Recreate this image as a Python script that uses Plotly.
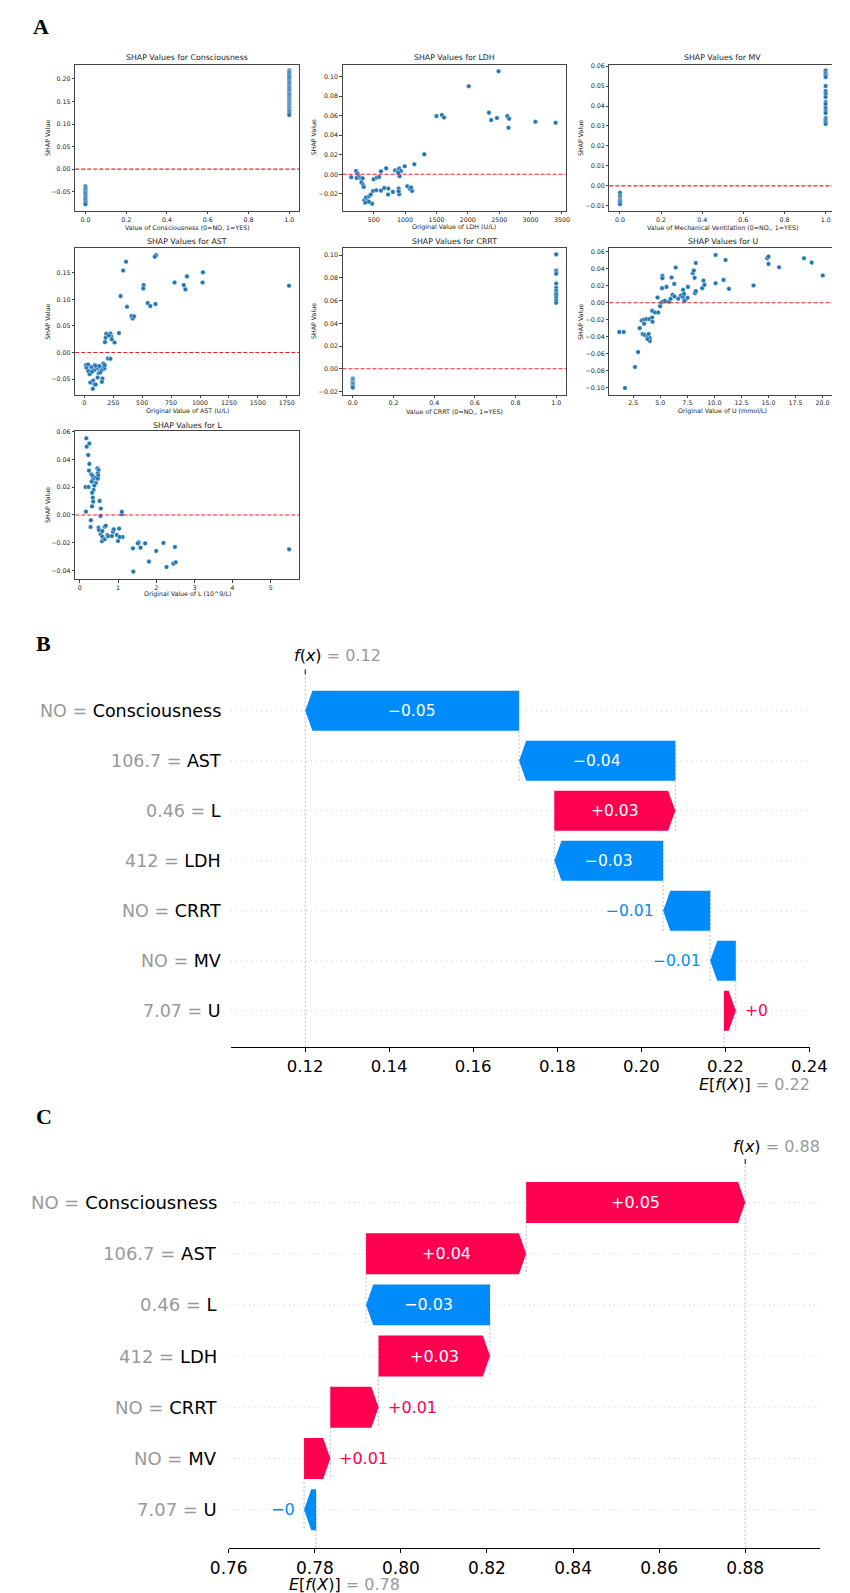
import plotly.graph_objects as go

W, H = 850, 1593

# ------------------------------------------------------------------
# Panel A data (SHAP dependence scatter values)
# ------------------------------------------------------------------
cons_x = [0, 0, 0, 0, 0, 0, 0, 0, 0, 0, 0,
          1, 1, 1, 1, 1, 1, 1, 1, 1, 1, 1, 1, 1, 1, 1,
          1, 1, 1, 1, 1, 1, 1, 1, 1, 1, 1, 1, 1, 1, 1]
cons_y = [-0.038, -0.042, -0.046, -0.05, -0.054, -0.058, -0.062, -0.066, -0.07, -0.074, -0.078,
          0.219, 0.216, 0.213, 0.209, 0.205, 0.201, 0.196, 0.193, 0.19, 0.186,
          0.182, 0.179, 0.175, 0.171, 0.168, 0.165, 0.162, 0.158, 0.155, 0.152,
          0.149, 0.146, 0.143, 0.14, 0.137, 0.134, 0.131, 0.128, 0.124, 0.12]

ldh_x = [2015, 2490, 1500, 1587, 1622, 2337, 2372, 2464, 2628, 2658,
         2648, 3077, 3398, 1306, 1148, 995, 699, 617, 143, 219,
         245, 260, 230, 286, 306, 326, 500, 551, 587, 306,
         332, 342, 352, 378, 403, 429, 454, 475, 367, 424,
         490, 541, 617, 668, 735, 730, 806, 842, 883, 908,
         934, 913, 893, 898, 908, 898, 1036, 1077, 1112, 1097]
ldh_y = [0.090, 0.1054, 0.0595, 0.0605, 0.058, 0.063, 0.0554, 0.0575, 0.0595, 0.0568,
         0.0476, 0.0537, 0.0527, 0.0204, 0.0102, 0.0082, 0.0061, 0.003, -0.003, 0.0034,
         0.0007, -0.0017, -0.0037, -0.0034, -0.005, -0.004, -0.005, -0.0034, -0.0027, -0.0085,
         -0.011, -0.0129, -0.0265, -0.0238, -0.027, -0.0224, -0.0207, -0.030, -0.029, -0.028,
         -0.017, -0.0163, -0.0167, -0.014, -0.0146, -0.0207, -0.018, 0.004, 0.0034, 0.0058,
         0.0034, -0.002, 0.0014, -0.0146, -0.0204, -0.0173, -0.0122, -0.015, -0.017, -0.0136]

mv_x = [0, 0, 0, 0, 0, 0, 0,
        1, 1, 1, 1, 1, 1, 1, 1, 1, 1, 1, 1, 1, 1, 1, 1, 1]
mv_y = [-0.0035, -0.005, -0.006, -0.0068, -0.0075, -0.0082, -0.0092,
        0.0578, 0.0565, 0.0555, 0.0545, 0.050, 0.0475, 0.046, 0.0445, 0.042,
        0.041, 0.039, 0.0375, 0.0365, 0.034, 0.033, 0.032, 0.031]

ast_x = [620, 609, 361, 336, 1025, 1022, 887, 780, 860, 874,
         513, 510, 1769, 314, 548, 571, 615, 369, 408, 419,
         430, 190, 226, 185, 179, 234, 262, 300, 212, 237,
         204, 226, 14, 19, 36, 47, 52, 77, 88, 74,
         99, 63, 91, 110, 124, 138, 157, 165, 174, 149,
         116, 138, 157, 152, 85, 96, 129, 66, 33, 176]
ast_y = [0.183, 0.180, 0.1706, 0.154, 0.1506, 0.1317, 0.143, 0.1317, 0.1267, 0.1186,
         0.1267, 0.1205, 0.1255, 0.106, 0.0928, 0.0872, 0.091, 0.0859, 0.0684, 0.064,
         0.0678, 0.0351, 0.0358, 0.0276, 0.0194, 0.0295, 0.0188, 0.0364, 0.032, 0.025,
         -0.0113, -0.0119, -0.0238, -0.0289, -0.0351, -0.0408, -0.0565, -0.0527, -0.0596, -0.0684,
         -0.0602, -0.0276, -0.0238, -0.030, -0.0389, -0.0333, -0.0289, -0.0207, -0.0301, -0.0339,
         -0.047, -0.0376, -0.049, -0.0552, -0.0333, -0.025, -0.0257, -0.0364, -0.0226, -0.0238]

crrt_x = [0, 0, 0, 0, 0, 0, 0, 0,
          1, 1, 1, 1, 1, 1, 1, 1, 1, 1, 1, 1]
crrt_y = [-0.0085, -0.0095, -0.011, -0.012, -0.013, -0.014, -0.0155, -0.0165,
          0.1006, 0.0865, 0.085, 0.0835, 0.075, 0.0712, 0.0688, 0.0665, 0.0647, 0.0624, 0.0603, 0.058]

u_x = [1.2, 1.61, 1.73, 2.65, 2.94, 3.09, 3.27, 3.5, 3.71, 3.36,
       3.56, 3.8, 3.92, 4.03, 4.03, 3.8, 3.5, 3.98, 4.24, 4.27,
       4.24, 4.5, 4.8, 4.74, 4.98, 5.1, 5.16, 5.19, 5.19, 5.24,
       5.42, 5.57, 5.8, 5.95, 6.04, 6.13, 6.28, 6.31, 6.42, 6.66,
       6.9, 7.1, 7.1, 7.19, 7.31, 7.55, 7.52, 7.22, 8.0, 8.1,
       8.17, 8.28, 8.2, 8.28, 8.87, 8.99, 9.08, 10.11, 10.11, 10.85,
       11.03, 11.35, 13.62, 14.89, 15.01, 15.01, 15.99, 18.29, 19.0, 20.03]
u_y = [-0.0344, -0.0344, -0.1, -0.0754, -0.0579, -0.0298, -0.0208, -0.0196, -0.0192, -0.0368,
       -0.038, -0.0395, -0.0368, -0.0415, -0.045, -0.0426, -0.0247, -0.0192, -0.0173, -0.0223,
       -0.0095, -0.0114, -0.0114, 0.0061, -0.004, 0.0003, 0.0171, 0.0315, 0.0288, 0.0015,
       0.0022, 0.0186, 0.0011, 0.0046, 0.0296, 0.0093, 0.0221, 0.0073, 0.0413, 0.0046,
       0.0085, 0.0065, 0.0151, 0.0104, 0.003, 0.0186, 0.0058, 0.0022, 0.0346, 0.0378,
       0.0292, 0.0467, 0.0112, 0.0136, 0.0171, 0.026, 0.021, 0.0561, 0.0229, 0.0268,
       0.0502, 0.0163, 0.0202, 0.0522, 0.0541, 0.0456, 0.0417, 0.0522, 0.0471, 0.0319]

l_x = [0.17, 0.25, 0.18, 0.22, 0.25, 0.24, 0.3, 0.33, 0.4, 0.46,
       0.49, 0.47, 0.48, 0.42, 0.34, 0.31, 0.38, 0.36, 0.32, 0.34,
       0.35, 0.32, 0.15, 0.23, 0.16, 0.47, 0.52, 0.55, 0.54, 0.29,
       0.28, 0.49, 0.5, 0.55, 0.59, 0.59, 0.58, 0.65, 0.65, 0.68,
       0.72, 0.75, 0.84, 0.87, 0.89, 0.97, 1.0, 1.03, 1.1, 1.1,
       1.12, 1.04, 1.39, 1.4, 1.54, 1.52, 1.59, 1.71, 1.81, 2.0,
       2.19, 2.27, 2.45, 2.49, 2.51, 5.48]
l_y = [0.0551, 0.0513, 0.0491, 0.0431, 0.0367, 0.0319, 0.0292, 0.0283, 0.0268, 0.0335,
       0.0323, 0.0299, 0.0283, 0.023, 0.0254, 0.024, 0.0211, 0.018, 0.016, 0.0125,
       0.0096, 0.0062, 0.0201, 0.0201, 0.0024, 0.0261, 0.0101, 0.0046, -0.0007, -0.0038,
       -0.0086, -0.0091, -0.0108, -0.0139, -0.0115, -0.0156, -0.0189, -0.0175, -0.0084, -0.0077,
       -0.0144, -0.0153, -0.0151, -0.012, -0.0103, -0.0144, -0.0187, -0.0098, 0.0005, 0.0022,
       -0.0158, -0.0158, -0.024, -0.0407, -0.0196, -0.0204, -0.0235, -0.0204, -0.0335, -0.0259,
       -0.0201, -0.0374, -0.035, -0.023, -0.034, -0.0247]

# ------------------------------------------------------------------
# Panels B / C data (waterfall)
# ------------------------------------------------------------------
feature_names = ["Consciousness", "AST", "L", "LDH", "CRRT", "MV", "U"]
feature_values = ["NO", "106.7", "0.46", "412", "NO", "NO", "7.07"]
shap_b = [-0.0509, -0.0372, 0.0288, -0.0259, -0.0112, -0.0061, 0.0028]
base_b = 0.2197
shap_c = [0.0509, 0.0372, -0.0288, 0.0259, 0.0112, 0.0061, -0.0028]
base_c = 0.7803

RED = "#ff0051"
BLUE = "#008bfb"
GRAY = "#999999"

fig = go.Figure()
annotations = []
shapes = []
layout_axes = {}


def xd(a, b):
    return [a / W, b / W]


def yd(top, bot):
    return [1 - bot / H, 1 - top / H]


def py(v):
    return 1 - v / H


# ------------------------------------------------------------------
# Panel A
# ------------------------------------------------------------------
rows = {1: (54, 224), 2: (238.3, 408.3), 3: (422.7, 591.7)}
panels = [
    dict(x=cons_x, y=cons_y, box=(58.8, 293.2, 60.7, 207.3), row=1,
         xr=[-0.05, 1.05], yr=[-0.0925, 0.232], xt=(0, 0.2, ".1f"), yt=(0, 0.05, ".2f"),
         title="SHAP Values for Consciousness", xl="Value of Consciousness (0=NO, 1=YES)",
         ylx=29.5, mirror=True),
    dict(x=ldh_x, y=ldh_y, box=(338.3, 572.3, 60.7, 207.3), row=1,
         xr=[5, 3570], yr=[-0.0373, 0.1122], xt=(0, 500, "d"), yt=(0, 0.02, ".2f"),
         title="SHAP Values for LDH", xl="Original Value of LDH (U/L)", ylx=308, mirror=True),
    dict(x=mv_x, y=mv_y, box=(617.3, 850, 60.7, 207.3), row=1,
         xr=[-0.0512, 1.031], yr=[-0.0125, 0.0608], xt=(0, 0.2, ".1f"), yt=(0, 0.01, ".2f"),
         title="SHAP Values for MV", xl="Value of Mechanical Ventilation (0=NO,, 1=YES)",
         ylx=587, mirror=False, tcx=735.6),
    dict(x=ast_x, y=ast_y, box=(58.8, 293.2, 245, 391.5), row=2,
         xr=[-78, 1859], yr=[-0.079, 0.1957], xt=(0, 250, "d"), yt=(0, 0.05, ".2f"),
         title="SHAP Values for AST", xl="Original Value of AST (U/L)", ylx=29.5, mirror=True),
    dict(x=crrt_x, y=crrt_y, box=(338.3, 572.3, 245, 391.5), row=2,
         xr=[-0.05, 1.05], yr=[-0.0226, 0.1059], xt=(0, 0.2, ".1f"), yt=(0, 0.02, ".2f"),
         title="SHAP Values for CRRT", xl="Value of CRRT (0=NO,, 1=YES)", ylx=308, mirror=True),
    dict(x=u_x, y=u_y, box=(617.3, 850, 245, 391.5), row=2,
         xr=[0.287, 20.885], yr=[-0.1077, 0.0638], xt=(0, 2.5, ".1f"), yt=(0, 0.02, ".2f"),
         title="SHAP Values for U", xl="Original Value of U (mmol/L)", ylx=587, mirror=False,
         tcx=735.6),
    dict(x=l_x, y=l_y, box=(58.8, 293.2, 428.3, 576.7), row=3,
         xr=[-0.12, 5.75], yr=[-0.0462, 0.0602], xt=(0, 1, "d"), yt=(0, 0.02, ".2f"),
         title="SHAP Values for L", xl="Original Value of L (10^9/L)", ylx=30, mirror=True),
]

TXT = "#222222"
FONT = "DejaVu Sans"
for k, p in enumerate(panels, start=1):
    sfx = "" if k == 1 else str(k)
    l, r, t, b = p["box"]
    fig.add_trace(go.Scatter(
        x=p["x"], y=p["y"], mode="markers", xaxis="x" + sfx, yaxis="y" + sfx,
        marker=dict(size=4.6, color="#1f77b4", line=dict(color="white", width=0.4)),
        hoverinfo="skip", showlegend=False))
    common = dict(showgrid=False, zeroline=False, showline=True, linecolor="#444444",
                  linewidth=0.8, ticks="outside", ticklen=2.5, tickwidth=0.8,
                  tickcolor="#444444", tickfont=dict(family=FONT, size=6.3, color=TXT))
    layout_axes["xaxis" + sfx] = dict(common, domain=xd(l, r), range=p["xr"],
                                      anchor="y" + sfx, mirror=True,
                                      tickmode="linear", tick0=p["xt"][0], dtick=p["xt"][1],
                                      tickformat=p["xt"][2])
    layout_axes["yaxis" + sfx] = dict(common, domain=yd(t, b), range=p["yr"],
                                      anchor="x" + sfx, mirror=p["mirror"],
                                      tickmode="linear", tick0=p["yt"][0], dtick=p["yt"][1],
                                      tickformat=p["yt"][2])
    # red dashed zero line
    shapes.append(dict(type="line", xref="x" + sfx + " domain", yref="y" + sfx,
                       x0=0, x1=1, y0=0, y1=0,
                       line=dict(color="#e8202a", width=1.1, dash="4px,2px")))
    tcx = p.get("tcx", (l + r) / 2)
    ty, xly = rows[p["row"]]
    annotations.append(dict(text=p["title"], xref="paper", yref="paper", x=tcx / W, y=py(ty),
                            xanchor="center", yanchor="middle", showarrow=False,
                            font=dict(family=FONT, size=7.8, color=TXT)))
    annotations.append(dict(text=p["xl"], xref="paper", yref="paper", x=tcx / W, y=py(xly),
                            xanchor="center", yanchor="middle", showarrow=False,
                            font=dict(family=FONT, size=6.3, color=TXT)))
    annotations.append(dict(text="SHAP Value", xref="paper", yref="paper", x=p["ylx"] / W,
                            y=py((t + b) / 2), xanchor="center", yanchor="middle",
                            textangle=-90, showarrow=False,
                            font=dict(family=FONT, size=6.3, color=TXT)))


# ------------------------------------------------------------------
# Waterfalls
# ------------------------------------------------------------------
def fmt_signed(v):
    s = f"{v:+.2f}".rstrip("0").rstrip(".")
    return s.replace("-", "\u2212")


def fmt_plain(v):
    s = f"{v:.3f}".rstrip("0").rstrip(".")
    return s.replace("-", "\u2212")


def waterfall(n_ax, vals, base, dom_px, xr, yr, label_right, fs_lab, fs_val, fs_tick,
              fx_y, e_y, fx_shift, e_shift):
    sfx = str(n_ax)
    xa, ya = "x" + sfx, "y" + sfx
    l, r, t, b = dom_px
    ppu = (r - l) / (xr[1] - xr[0])
    hl_data = 7.5 / ppu
    n = len(vals)
    starts = [0.0] * n
    ends = [0.0] * n
    cur = base
    for i in range(n - 1, -1, -1):
        starts[i] = cur
        ends[i] = cur + vals[i]
        cur = ends[i]
    fx = cur

    layout_axes["xaxis" + sfx] = dict(
        domain=xd(l, r), range=xr, anchor=ya, showgrid=False, zeroline=False,
        showline=True, linecolor="black", linewidth=1.2, ticks="outside", ticklen=4,
        tickwidth=1, tickcolor="black", tickmode="linear", tick0=0, dtick=0.02,
        tickformat=".2f", tickfont=dict(family=FONT, size=fs_tick, color="black"))
    layout_axes["yaxis" + sfx] = dict(domain=yd(t, b), range=yr, anchor=xa, visible=False)

    # dotted row guides
    for i in range(n):
        shapes.append(dict(type="line", xref=xa + " domain", yref=ya, x0=0, x1=1, y0=i, y1=i,
                           layer="below", line=dict(color="#cccccc", width=1, dash="1px,4px")))
    # connectors between consecutive bars
    for i in range(n - 1):
        shapes.append(dict(type="line", xref=xa, yref=ya, x0=starts[i], x1=starts[i],
                           y0=i - 0.4, y1=i + 1.4, layer="below",
                           line=dict(color="#bbbbbb", width=1, dash="2px,2px")))
    # f(x) full-height line and E[f(X)] short line
    shapes.append(dict(type="line", xref=xa, yref=ya, x0=fx, x1=fx, y0=yr[0], y1=yr[1],
                       layer="below", line=dict(color="#bbbbbb", width=1, dash="2px,2px")))
    shapes.append(dict(type="line", xref=xa, yref=ya, x0=base, x1=base, y0=yr[0],
                       y1=yr[0] - (yr[0] - yr[1]) / n, layer="below",
                       line=dict(color="#bbbbbb", width=1, dash="2px,2px")))
    # f(x) tick on top
    shapes.append(dict(type="line", xref=xa, yref="paper", x0=fx, x1=fx, y0=py(t), y1=py(t - 5),
                       line=dict(color="black", width=1)))

    for i in range(n):
        s, e, v = starts[i], ends[i], vals[i]
        hl = min(abs(v), hl_data)
        top, bot = i - 0.4, i + 0.4
        if v >= 0:
            xs = [s, e - hl, e, e - hl, s, s]
            col = RED
        else:
            xs = [s, e + hl, e, e + hl, s, s]
            col = BLUE
        ys = [top, top, i, bot, bot, top]
        fig.add_trace(go.Scatter(x=xs, y=ys, xaxis=xa, yaxis=ya, mode="lines",
                                 fill="toself", fillcolor=col, line=dict(width=0, color=col),
                                 hoverinfo="skip", showlegend=False))
        txt = fmt_signed(v)
        bar_px = abs(v) * ppu
        txt_px = len(txt) * 0.63 * fs_val
        if bar_px > txt_px + 10:
            annotations.append(dict(text=txt, xref=xa, yref=ya, x=s + v / 2, y=i,
                                    xanchor="center", yanchor="middle", showarrow=False,
                                    font=dict(family=FONT, size=fs_val, color="white")))
        else:
            annotations.append(dict(text=txt, xref=xa, yref=ya, x=e, y=i,
                                    xanchor="left" if v >= 0 else "right",
                                    xshift=7 if v >= 0 else -7,
                                    yanchor="middle", showarrow=False,
                                    font=dict(family=FONT, size=fs_val, color=col)))
        annotations.append(dict(
            text=f"<span style='color:{GRAY}'>{feature_values[i]} = </span>{feature_names[i]}",
            xref="paper", yref=ya, x=label_right / W, y=i, xanchor="right", yanchor="middle",
            showarrow=False, font=dict(family=FONT, size=fs_lab, color="black")))

    annotations.append(dict(
        text=f"<i>f</i>(<i>x</i>)<span style='color:{GRAY}'> = {fmt_plain(fx)}</span>",
        xref=xa, yref="paper", x=fx, y=py(fx_y), xanchor="left", xshift=fx_shift,
        yanchor="middle", showarrow=False, font=dict(family=FONT, size=16, color="black")))
    annotations.append(dict(
        text=f"<i>E</i>[<i>f</i>(<i>X</i>)]<span style='color:{GRAY}'> = {fmt_plain(base)}</span>",
        xref=xa, yref="paper", x=base, y=py(e_y), xanchor="left", xshift=e_shift,
        yanchor="middle", showarrow=False, font=dict(family=FONT, size=16, color="black")))


waterfall(8, shap_b, base_b, (221.7, 826.7, 672, 1046), [0.10234, 0.2401], [6.73, -0.73],
          213, 17.5, 15.5, 16.5, 653, 1083.3, -13, -27)
waterfall(9, shap_c, base_c, (219.3, 837, 1163, 1548), [0.76, 0.89727], [6.75, -0.75],
          209, 18, 16, 17, 1145, 1584.7, -14, -29)

# panel letters
for letter, lx, ly in [("A", 13, 22.5), ("B", 16, 641), ("C", 16, 1115)]:
    annotations.append(dict(text=f"<b>{letter}</b>", xref="paper", yref="paper", x=lx / W,
                            y=py(ly), xanchor="left", yanchor="middle", showarrow=False,
                            font=dict(family="Liberation Serif", size=22, color="black")))

fig.update_layout(width=W, height=H, margin=dict(l=0, r=0, t=0, b=0),
                  paper_bgcolor="white", plot_bgcolor="white", showlegend=False,
                  annotations=annotations, shapes=shapes, **layout_axes)

fig.write_html("out.html")
